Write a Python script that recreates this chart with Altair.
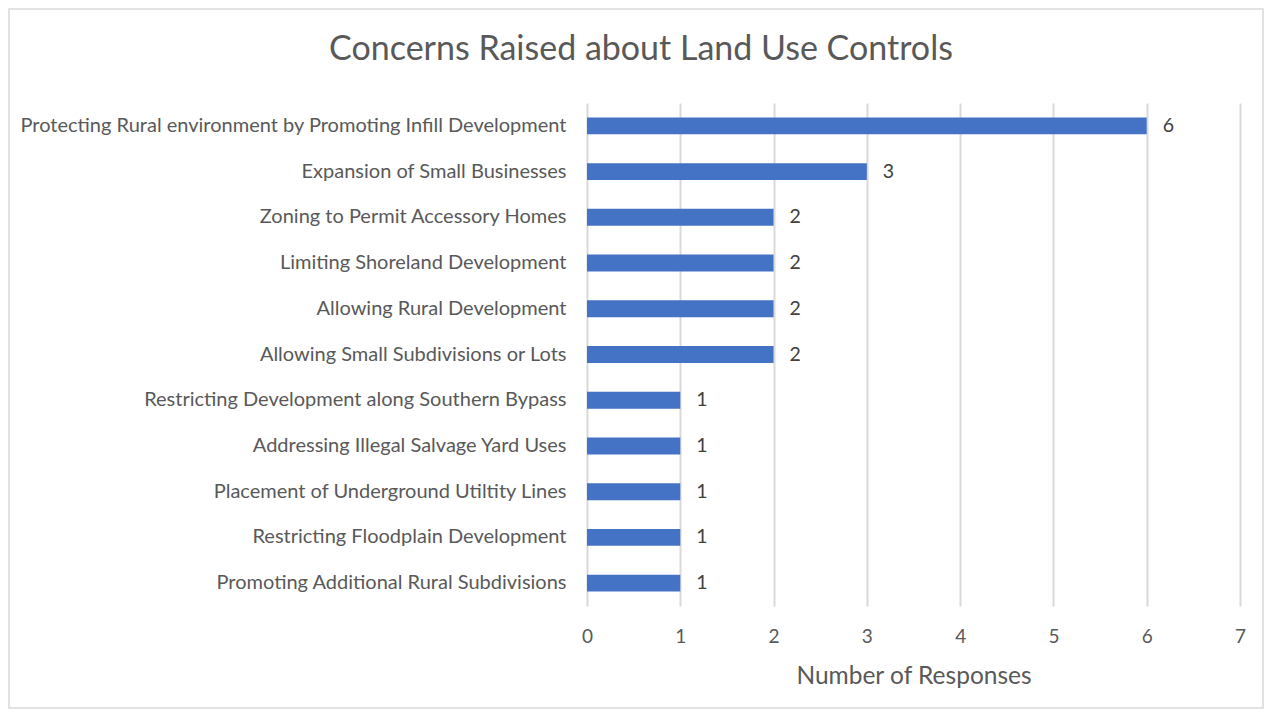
import altair as alt
import pandas as pd

categories = [
    "Protecting Rural environment by Promoting Infill Development",
    "Expansion of Small Businesses",
    "Zoning to Permit Accessory Homes",
    "Limiting Shoreland Development",
    "Allowing Rural Development",
    "Allowing Small Subdivisions or Lots",
    "Restricting Development along Southern Bypass",
    "Addressing Illegal Salvage Yard Uses",
    "Placement of Underground Utiltity Lines",
    "Restricting Floodplain Development",
    "Promoting Additional Rural Subdivisions",
]
values = [6, 3, 2, 2, 2, 2, 1, 1, 1, 1, 1]
x_ticks = [0, 1, 2, 3, 4, 5, 6, 7]
title_text = ["Concerns Raised about Land Use Controls"]

df = pd.DataFrame({"concern": categories, "responses": values})
tdf = pd.DataFrame({"t": title_text})

FONT = "Lato"
W, H = 653, 503

y_enc = alt.Y(
    "concern:N",
    sort=categories,
    scale=alt.Scale(paddingInner=0.63, paddingOuter=0.315),
    axis=alt.Axis(
        title=None, domain=False, ticks=False, labelPadding=21,
        labelFontSize=20, labelColor="#595959", labelFont=FONT, labelLimit=700,
    ),
)
x_enc = alt.X(
    "responses:Q",
    scale=alt.Scale(domain=[0, 7], nice=False),
    axis=alt.Axis(
        values=x_ticks, format="d", title="Number of Responses", titleFontSize=24.5,
        titleFont=FONT, titleColor="#595959", titleFontWeight="normal",
        titlePadding=18, labelFontSize=19, labelColor="#595959", labelFont=FONT,
        labelPadding=21, labelFlush=False, domain=False, ticks=False, grid=True,
        gridColor="#d9d9d9", gridWidth=2,
    ),
)

bars = alt.Chart(df).mark_bar(color="#4472C4").encode(x=x_enc, y=y_enc)
labels = alt.Chart(df).mark_text(
    align="left", baseline="middle", dx=16, fontSize=19.5, font=FONT, color="#404040"
).encode(x="responses:Q", y=alt.Y("concern:N", sort=categories), text="responses:Q")

title = alt.Chart(tdf).mark_text(
    align="center", baseline="middle", fontSize=34, font=FONT, color="#595959"
).encode(x=alt.value(54), y=alt.value(-53), text="t:N")

border = alt.Chart(tdf).mark_rect(
    fill="transparent", stroke="#d9d9d9", strokeWidth=1.5
).encode(
    x=alt.value(-578), x2=alt.value(676), y=alt.value(-94), y2=alt.value(605)
)

chart = alt.layer(border, bars, labels, title).properties(
    width=W, height=H,
    background="white",
    autosize=alt.AutoSizeParams(type="none"),
    padding={"left": 579, "top": 95, "right": 25, "bottom": 104},
).configure_view(strokeWidth=0, stroke="transparent")

chart.save("out.html", embed_options={"renderer": "svg", "actions": False})
